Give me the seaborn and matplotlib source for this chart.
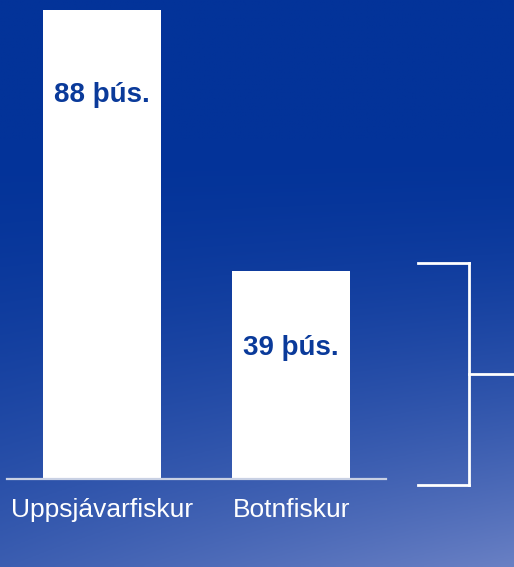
import numpy as np
import pandas as pd
import matplotlib
matplotlib.use("Agg")
import matplotlib.pyplot as plt
from matplotlib.lines import Line2D
import seaborn as sns

categories = ["Uppsjávarfiskur", "Botnfiskur"]
values = [88, 39]
value_labels = ["88 þús.", "39 þús."]

sns.set_theme(style="white")
plt.rcParams["font.family"] = ["Liberation Sans", "DejaVu Sans"]

W, H = 514, 567
fig = plt.figure(figsize=(W / 100, H / 100), dpi=100)

# background gradient
bg = fig.add_axes([0, 0, 1, 1], zorder=0)
ny, nx = 200, 200
t = np.linspace(0, 1, ny)[:, None]
s = np.linspace(0, 1, nx)[None, :]
top = np.array([3, 51, 153]) / 255
bot = np.array([105, 128, 196]) / 255
f = (np.clip((t - 0.25) / 0.75, 0, 1) ** 1.6) * (0.55 + 0.45 * s)
img = top[None, None, :] + (bot - top)[None, None, :] * f[..., None]
bg.imshow(img, aspect="auto", extent=[0, 1, 0, 1], origin="upper")
bg.set_axis_off()

ax = fig.add_axes([7 / W, (H - 479) / H, 379 / W, 469 / H], zorder=1)
ax.patch.set_alpha(0)
df = pd.DataFrame({"cat": categories, "val": values})
sns.barplot(data=df, x="cat", y="val", color="white", saturation=1,
            width=0.624, ax=ax, edgecolor="none")
ax.set_xlim(-0.5, 1.5)
ax.set_ylim(0, 88)
for sp in ["top", "right", "left"]:
    ax.spines[sp].set_visible(False)
ax.spines["bottom"].set_color("#c9d1e4")
ax.spines["bottom"].set_linewidth(1.6)
ax.set_yticks([])
ax.set_xlabel("")
ax.set_ylabel("")
ax.tick_params(axis="x", length=0, pad=14, labelsize=19, labelcolor="white")

label_drop = [16.0, 14.5]  # distance of value label below bar top (data units)
for i, (v, lab) in enumerate(zip(values, value_labels)):
    ax.text(i, v - label_drop[i], lab, ha="center", va="center", fontsize=20,
            fontweight="bold", color="#0a3a9a")

# bracket on the right (figure pixel coordinates)
def fx(x):
    return x / W

def fy(y):
    return 1 - y / H

lc = "white"
lw = 2.0
segs = [((418, 263), (469, 263)), ((469, 263), (469, 485)),
        ((418, 485), (469, 485)), ((469, 374), (514, 374))]
for (x0, y0), (x1, y1) in segs:
    fig.add_artist(Line2D([fx(x0), fx(x1)], [fy(y0), fy(y1)], color=lc,
                          lw=lw, solid_capstyle="projecting", zorder=3))

fig.savefig("out.png", dpi=100)
